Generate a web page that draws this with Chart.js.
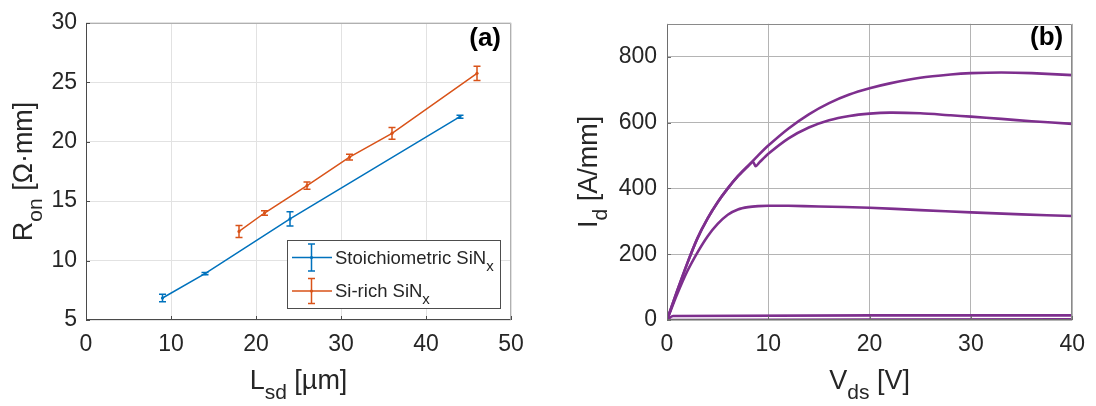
<!DOCTYPE html>
<html>
<head>
<meta charset="utf-8">
<script src="https://cdn.jsdelivr.net/npm/chart.js@4.4.1/dist/chart.umd.min.js"></script>
<style>
  html, body { margin: 0; padding: 0; background: #ffffff; }
  #wrap { position: relative; width: 1096px; height: 406px; overflow: hidden; }
  .pane { position: absolute; top: 0; width: 548px; height: 406px; }
</style>
</head>
<body>
<div id="wrap">
  <div class="pane" style="left:0"><canvas id="ronChart" width="548" height="406"></canvas></div>
  <div class="pane" style="left:548px"><canvas id="ivChart" width="548" height="406"></canvas></div>
</div>
<script>
// ---- (a) on-resistance vs. source-drain spacing ----
const lsdStoich = [9, 14, 24, 44];
const ronStoich = [6.85, 8.9, 13.5, 22.1];
const errStoich = [0.32, 0.1, 0.6, 0.12];

const lsdSiRich = [18, 21, 26, 31, 36, 46];
const ronSiRich = [12.45, 14.0, 16.3, 18.7, 20.7, 25.75];
const errSiRich = [0.5, 0.18, 0.3, 0.25, 0.5, 0.6];

const lsdTicks = [0, 10, 20, 30, 40, 50];
const ronTicks = [5, 10, 15, 20, 25, 30];

// ---- (b) output characteristics ----
const vdsTop = [0, 1, 2, 3, 4, 5, 6, 7, 8, 9, 10, 12, 14, 16, 18, 20, 22, 25, 28, 30, 33, 36, 40];
const idTop  = [0, 88, 172, 248, 308, 358, 400, 437, 468, 500, 530, 582, 625, 659, 685, 704, 719, 736, 746, 750, 752, 750, 744];

const vdsMid = [0, 1, 2, 3, 4, 5, 6, 7, 8, 8.5, 8.75, 9.1, 10, 12, 14, 16, 18, 20, 22, 25, 28, 30, 33, 36, 40];
const idMid  = [0, 88, 172, 248, 308, 358, 400, 437, 468, 480, 467, 478, 505, 552, 585, 607, 620, 627, 630, 628, 622, 618, 611, 604, 596];

const vdsLow = [0, 1, 2, 3, 4, 5, 6, 7, 8, 9, 10, 12, 15, 20, 25, 30, 35, 40];
const idLow  = [0, 78, 148, 205, 254, 292, 320, 336, 343, 346, 347, 347, 345, 341, 334, 327, 321, 316];

const vdsOffA = [0, 0.6, 40];
const idOffA  = [0, 12, 14];
const vdsOffB = [0, 40];
const idOffB  = [0, 2];

const vdsTicks = [0, 10, 20, 30, 40];
const idTicks = [0, 200, 400, 600, 800];

// ---- shared styling ----
const FONT = '"Liberation Sans", Arial, Helvetica, sans-serif';
const TEXT = '#262626';
const BLUE = '#0072BD';
const ORANGE = '#D95319';
const PURPLE = '#7E2F8E';

function pts(xs, ys) { return xs.map((x, i) => ({ x: x, y: ys[i] })); }

// text with subscripts: parts = [[text, isSub], ...]
function richWidth(ctx, parts, size, subSize) {
  let w = 0;
  for (const [t, sub] of parts) {
    ctx.font = (sub ? subSize : size) + 'px ' + FONT;
    w += ctx.measureText(t).width;
  }
  return w;
}
function drawRich(ctx, parts, x, y, size, subSize, subDrop, align) {
  const w = richWidth(ctx, parts, size, subSize);
  let cx = align === 'center' ? x - w / 2 : x;
  ctx.textAlign = 'left';
  ctx.textBaseline = 'alphabetic';
  ctx.fillStyle = TEXT;
  for (const [t, sub] of parts) {
    ctx.font = (sub ? subSize : size) + 'px ' + FONT;
    ctx.fillText(t, cx, sub ? y + subDrop : y);
    cx += ctx.measureText(t).width;
  }
}

function keepTicks(values) {
  return function (scale) {
    scale.ticks = values.map(v => ({ value: v }));
  };
}

// box outline, inner tick marks, axis titles and panel tag
function framePlugin(cfg) {
  return {
    id: 'frame-' + cfg.tag,
    afterDraw(chart) {
      const ctx = chart.ctx;
      const a = chart.chartArea;
      const xs = chart.scales.x, ys = chart.scales.y;
      ctx.save();
      ctx.lineWidth = 1;
      // top and right sides of the box
      ctx.strokeStyle = cfg.boxColor;
      ctx.beginPath();
      ctx.moveTo(Math.round(a.left) + 0.5, Math.round(a.top) + 0.5);
      ctx.lineTo(Math.round(a.right) - 0.5, Math.round(a.top) + 0.5);
      ctx.lineTo(Math.round(a.right) - 0.5, Math.round(a.bottom) - 0.5);
      ctx.stroke();
      // left and bottom axes
      ctx.strokeStyle = cfg.axisColor;
      ctx.beginPath();
      ctx.moveTo(Math.round(a.left) + 0.5, Math.round(a.top) + 0.5);
      ctx.lineTo(Math.round(a.left) + 0.5, Math.round(a.bottom) - 0.5);
      ctx.lineTo(Math.round(a.right) - 0.5, Math.round(a.bottom) - 0.5);
      ctx.stroke();
      // inward tick marks
      ctx.beginPath();
      for (const t of xs.ticks) {
        const px = Math.round(xs.getPixelForValue(t.value)) + 0.5;
        ctx.moveTo(px, a.bottom); ctx.lineTo(px, a.bottom - 4);
      }
      for (const t of ys.ticks) {
        const py = Math.round(ys.getPixelForValue(t.value)) + 0.5;
        ctx.moveTo(a.left, py); ctx.lineTo(a.left + 4, py);
      }
      ctx.stroke();

      // axis titles
      const cxm = (a.left + a.right) / 2;
      const cym = (a.top + a.bottom) / 2;
      drawRich(ctx, cfg.xTitle, cxm, 389, 27, 21, 10, 'center');
      ctx.save();
      ctx.translate(cfg.yTitleX, cym);
      ctx.rotate(-Math.PI / 2);
      drawRich(ctx, cfg.yTitle, 0, 0, 27, 21, 10, 'center');
      ctx.restore();

      // panel tag
      ctx.font = 'bold 26px ' + FONT;
      ctx.fillStyle = '#000000';
      ctx.textAlign = 'right';
      ctx.textBaseline = 'alphabetic';
      ctx.fillText(cfg.tag, a.right - cfg.tagGap, cfg.tagY);
      ctx.restore();
    }
  };
}

// vertical error bars with caps, drawn from each dataset's "errors" list
const errorBarPlugin = {
  id: 'errorBars',
  afterDatasetsDraw(chart) {
    const ctx = chart.ctx;
    const ys = chart.scales.y;
    ctx.save();
    ctx.lineWidth = 1.5;
    chart.data.datasets.forEach((ds, di) => {
      if (!ds.errors) return;
      const meta = chart.getDatasetMeta(di);
      ctx.strokeStyle = ds.borderColor;
      meta.data.forEach((el, i) => {
        const v = ds.data[i].y, e = ds.errors[i];
        const y1 = ys.getPixelForValue(v - e);
        const y2 = ys.getPixelForValue(v + e);
        const x = el.x;
        ctx.beginPath();
        ctx.moveTo(x, y1); ctx.lineTo(x, y2);
        ctx.moveTo(x - 3.5, y1); ctx.lineTo(x + 3.5, y1);
        ctx.moveTo(x - 3.5, y2); ctx.lineTo(x + 3.5, y2);
        ctx.stroke();
      });
    });
    ctx.restore();
  }
};

// legend box with error-bar glyphs
const legendPlugin = {
  id: 'errLegend',
  afterDraw(chart) {
    const ctx = chart.ctx;
    const box = { x: 287.5, y: 240.5, w: 213, h: 68 };
    ctx.save();
    ctx.fillStyle = '#ffffff';
    ctx.fillRect(box.x, box.y, box.w, box.h);
    ctx.strokeStyle = '#4d4d4d';
    ctx.lineWidth = 1;
    ctx.strokeRect(box.x, box.y, box.w, box.h);
    const rows = [
      { ds: chart.data.datasets[0], y: 257.5, half: 13.5 },
      { ds: chart.data.datasets[1], y: 291, half: 12.5 }
    ];
    for (const r of rows) {
      ctx.strokeStyle = r.ds.borderColor;
      ctx.lineWidth = 1.5;
      ctx.beginPath();
      ctx.moveTo(292, r.y); ctx.lineTo(332, r.y);
      ctx.moveTo(311.5, r.y - r.half); ctx.lineTo(311.5, r.y + r.half);
      ctx.moveTo(308, r.y - r.half); ctx.lineTo(315, r.y - r.half);
      ctx.moveTo(308, r.y + r.half); ctx.lineTo(315, r.y + r.half);
      ctx.stroke();
      ctx.fillStyle = r.ds.borderColor;
      ctx.beginPath();
      ctx.arc(311.5, r.y, 1.6, 0, Math.PI * 2);
      ctx.fill();
      drawRich(ctx, r.ds.richLabel, 335, r.y + 6, 18.5, 15, 7, 'left');
    }
    ctx.restore();
  }
};

function axisOpts(min, max, ticks, gridColor, pad) {
  return {
    type: 'linear',
    min: min, max: max,
    afterBuildTicks: keepTicks(ticks),
    grid: { color: gridColor, lineWidth: 1, drawTicks: false },
    border: { display: false },
    ticks: {
      color: TEXT,
      font: { family: FONT, size: 23 },
      padding: pad,
      maxRotation: 0,
      autoSkip: false
    }
  };
}

// ---- chart (a) ----
const xA = axisOpts(0, 50, lsdTicks, '#e2e2e2', 11);
xA.afterFit = s => { s.height = 86; };
const yA = axisOpts(5, 30, ronTicks, '#e2e2e2', 9);
yA.afterFit = s => { s.width = 86; };

new Chart(document.getElementById('ronChart'), {
  type: 'line',
  data: {
    datasets: [
      {
        label: 'Stoichiometric SiNx',
        richLabel: [['Stoichiometric SiN', 0], ['x', 1]],
        data: pts(lsdStoich, ronStoich),
        errors: errStoich,
        borderColor: BLUE, backgroundColor: BLUE,
        borderWidth: 1.5, pointRadius: 1.6, pointBorderWidth: 0,
        tension: 0
      },
      {
        label: 'Si-rich SiNx',
        richLabel: [['Si-rich SiN', 0], ['x', 1]],
        data: pts(lsdSiRich, ronSiRich),
        errors: errSiRich,
        borderColor: ORANGE, backgroundColor: ORANGE,
        borderWidth: 1.5, pointRadius: 1.6, pointBorderWidth: 0,
        tension: 0
      }
    ]
  },
  options: {
    responsive: false,
    animation: false,
    devicePixelRatio: 1,
    layout: { padding: { top: 14, right: 37, left: 0, bottom: 0 } },
    plugins: { legend: { display: false }, tooltip: { enabled: false } },
    scales: { x: xA, y: yA }
  },
  plugins: [
    errorBarPlugin,
    framePlugin({
      tag: '(a)', tagY: 46, tagGap: 10,
      axisColor: '#4a4a4a', boxColor: '#b0b0b0',
      xTitle: [['L', 0], ['sd', 1], [' [\u00b5m]', 0]],
      yTitle: [['R', 0], ['on', 1], [' [\u03a9\u00b7mm]', 0]],
      yTitleX: 32
    }),
    legendPlugin
  ]
});

// ---- chart (b) ----
const xB = axisOpts(0, 40, vdsTicks, '#b4b4b4', 11);
xB.afterFit = s => { s.height = 86; };
const yB = axisOpts(0, 900, idTicks, '#b4b4b4', 10);
yB.afterFit = s => { s.width = 119; };

function ivSet(xs, ys) {
  return {
    data: pts(xs, ys),
    borderColor: PURPLE,
    borderWidth: 2.6,
    pointRadius: 0,
    tension: 0.25,
    fill: false
  };
}

new Chart(document.getElementById('ivChart'), {
  type: 'line',
  data: {
    datasets: [
      ivSet(vdsTop, idTop),
      ivSet(vdsMid, idMid),
      ivSet(vdsLow, idLow),
      ivSet(vdsOffA, idOffA),
      ivSet(vdsOffB, idOffB)
    ]
  },
  options: {
    responsive: false,
    animation: false,
    devicePixelRatio: 1,
    layout: { padding: { top: 14, right: 18, left: 0, bottom: 0 } },
    plugins: { legend: { display: false }, tooltip: { enabled: false } },
    scales: { x: xB, y: yB }
  },
  plugins: [
    framePlugin({
      tag: '(b)', tagY: 45, tagGap: 9,
      axisColor: '#6e6e6e', boxColor: '#8a8a8a',
      xTitle: [['V', 0], ['ds', 1], [' [V]', 0]],
      yTitle: [['I', 0], ['d', 1], [' [A/mm]', 0]],
      yTitleX: 49
    })
  ]
});
</script>
</body>
</html>
